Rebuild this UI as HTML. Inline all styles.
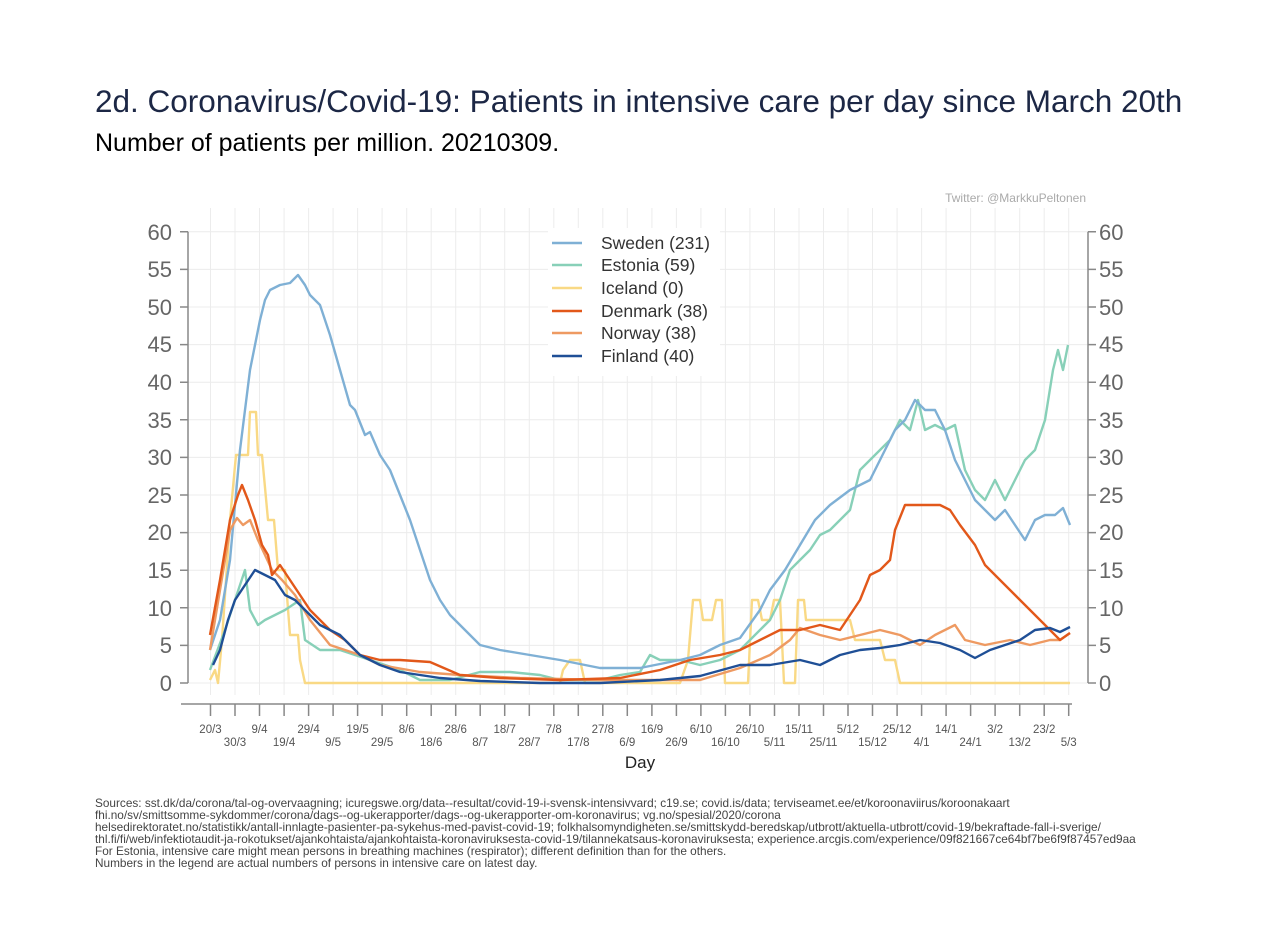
<!DOCTYPE html>
<html><head><meta charset="utf-8"><style>
body{margin:0;background:#fff;}
svg{display:block;font-family:"Liberation Sans",sans-serif;}
</style></head><body>
<svg width="1280" height="931" viewBox="0 0 1280 931" xmlns="http://www.w3.org/2000/svg">
<rect width="1280" height="931" fill="#fff"/>
<text x="95" y="112" font-size="31.5" fill="#1c2745">2d. Coronavirus/Covid-19: Patients in intensive care per day since March 20th</text>
<text x="95" y="151" font-size="25" fill="#000">Number of patients per million. 20210309.</text>
<text x="1086" y="202" font-size="12" fill="#aaa" text-anchor="end">Twitter: @MarkkuPeltonen</text>
<path stroke="#ececec" stroke-width="1" fill="none" d="M188 683H1088M188 645.4H1088M188 607.8H1088M188 570.2H1088M188 532.6H1088M188 495H1088M188 457.4H1088M188 419.8H1088M188 382.2H1088M188 344.6H1088M188 307H1088M188 269.4H1088M188 231.8H1088
M210.5 208V695M235 208V695M259.5 208V695M284.1 208V695M308.6 208V695M333.1 208V695M357.6 208V695M382.1 208V695M406.7 208V695M431.2 208V695M455.7 208V695M480.2 208V695M504.7 208V695M529.3 208V695M553.8 208V695M578.3 208V695M602.8 208V695M627.3 208V695M651.9 208V695M676.4 208V695M700.9 208V695M725.4 208V695M749.9 208V695M774.5 208V695M799 208V695M823.5 208V695M848 208V695M872.5 208V695M897.1 208V695M921.6 208V695M946.1 208V695M970.6 208V695M995.1 208V695M1019.7 208V695M1044.2 208V695M1068.7 208V695"/>
<path stroke="#888" stroke-width="1.5" fill="none" d="M188 231.8V683M1088 231.8V683
M180 683H188M180 645.4H188M180 607.8H188M180 570.2H188M180 532.6H188M180 495H188M180 457.4H188M180 419.8H188M180 382.2H188M180 344.6H188M180 307H188M180 269.4H188M180 231.8H188
M1088 683H1096M1088 645.4H1096M1088 607.8H1096M1088 570.2H1096M1088 532.6H1096M1088 495H1096M1088 457.4H1096M1088 419.8H1096M1088 382.2H1096M1088 344.6H1096M1088 307H1096M1088 269.4H1096M1088 231.8H1096
M181 704H1072
M210.5 704V716M235 704V716M259.5 704V716M284.1 704V716M308.6 704V716M333.1 704V716M357.6 704V716M382.1 704V716M406.7 704V716M431.2 704V716M455.7 704V716M480.2 704V716M504.7 704V716M529.3 704V716M553.8 704V716M578.3 704V716M602.8 704V716M627.3 704V716M651.9 704V716M676.4 704V716M700.9 704V716M725.4 704V716M749.9 704V716M774.5 704V716M799 704V716M823.5 704V716M848 704V716M872.5 704V716M897.1 704V716M921.6 704V716M946.1 704V716M970.6 704V716M995.1 704V716M1019.7 704V716M1044.2 704V716M1068.7 704V716"/>
<g fill="#666" font-size="22" text-anchor="end">
<text x="172" y="691">0</text><text x="172" y="653">5</text><text x="172" y="616">10</text><text x="172" y="578">15</text><text x="172" y="540">20</text><text x="172" y="503">25</text><text x="172" y="465">30</text><text x="172" y="428">35</text><text x="172" y="390">40</text><text x="172" y="352">45</text><text x="172" y="315">50</text><text x="172" y="277">55</text><text x="172" y="240">60</text>
</g>
<g fill="#666" font-size="22">
<text x="1099" y="691">0</text><text x="1099" y="653">5</text><text x="1099" y="616">10</text><text x="1099" y="578">15</text><text x="1099" y="540">20</text><text x="1099" y="503">25</text><text x="1099" y="465">30</text><text x="1099" y="428">35</text><text x="1099" y="390">40</text><text x="1099" y="352">45</text><text x="1099" y="315">50</text><text x="1099" y="277">55</text><text x="1099" y="240">60</text>
</g>
<g fill="#555" font-size="11.5" text-anchor="middle">
<text x="210.5" y="733">20/3</text><text x="235" y="746">30/3</text><text x="259.5" y="733">9/4</text><text x="284.1" y="746">19/4</text><text x="308.6" y="733">29/4</text><text x="333.1" y="746">9/5</text><text x="357.6" y="733">19/5</text><text x="382.1" y="746">29/5</text><text x="406.7" y="733">8/6</text><text x="431.2" y="746">18/6</text><text x="455.7" y="733">28/6</text><text x="480.2" y="746">8/7</text><text x="504.7" y="733">18/7</text><text x="529.3" y="746">28/7</text><text x="553.8" y="733">7/8</text><text x="578.3" y="746">17/8</text><text x="602.8" y="733">27/8</text><text x="627.3" y="746">6/9</text><text x="651.9" y="733">16/9</text><text x="676.4" y="746">26/9</text><text x="700.9" y="733">6/10</text><text x="725.4" y="746">16/10</text><text x="749.9" y="733">26/10</text><text x="774.5" y="746">5/11</text><text x="799" y="733">15/11</text><text x="823.5" y="746">25/11</text><text x="848" y="733">5/12</text><text x="872.5" y="746">15/12</text><text x="897.1" y="733">25/12</text><text x="921.6" y="746">4/1</text><text x="946.1" y="733">14/1</text><text x="970.6" y="746">24/1</text><text x="995.1" y="733">3/2</text><text x="1019.7" y="746">13/2</text><text x="1044.2" y="733">23/2</text><text x="1068.7" y="746">5/3</text>
</g>
<rect x="548" y="228" width="172" height="148" fill="#fff"/>
<g fill="none" stroke-width="2.4" stroke-linejoin="round">
<polyline stroke="#f9d985" points="210,680 215,670 218,683 222,640 230,520 236,455 248,455 250,412 256,412 258,455 262,455 268,520 274,520 278,570 285,570 290,635 298,635 300,660 305,683 560,683 563,670 570,660 580,660 585,683 680,683 688,660 693,600 700,600 703,620 712,620 716,600 722,600 725,683 748,683 752,600 758,600 762,620 770,620 774,600 780,600 784,683 795,683 798,600 804,600 806,620 850,620 855,640 880,640 885,660 895,660 900,683 1070,683"/>
<polyline stroke="#88d0b8" points="210,670 225,630 235,600 245,570 250,610 258,625 265,620 275,615 285,610 300,600 305,640 320,650 340,650 370,660 400,670 420,680 450,680 480,672 510,672 540,675 560,680 600,680 620,675 640,672 650,655 660,660 680,660 700,665 720,660 740,650 760,630 770,620 780,600 790,570 800,560 810,550 820,535 830,530 840,520 850,510 860,470 870,460 880,450 890,440 900,420 910,430 918,400 925,430 935,425 945,430 955,425 965,470 975,490 985,500 995,480 1005,500 1015,480 1025,460 1035,450 1045,420 1053,370 1058,350 1063,370 1068,345"/>
<polyline stroke="#7fb0d5" points="210,650 220,620 230,560 240,450 250,370 260,320 265,300 270,290 280,285 290,283 298,275 305,285 310,295 320,305 330,335 340,370 350,405 355,410 365,435 370,432 380,455 390,470 400,495 410,520 420,550 430,580 440,600 450,615 460,625 470,635 480,645 500,650 530,655 560,660 600,668 640,668 680,660 700,655 720,645 740,638 760,610 770,590 785,570 800,545 815,520 830,505 850,490 870,480 880,460 895,430 905,420 915,400 925,410 935,410 945,430 955,460 965,480 975,500 985,510 995,520 1005,510 1015,525 1025,540 1035,520 1045,515 1055,515 1063,508 1070,525"/>
<polyline stroke="#ee9a62" points="210,650 220,590 230,530 237,518 243,525 250,520 258,540 265,555 272,570 282,580 295,595 310,620 330,645 360,655 380,665 420,672 460,675 520,678 600,680 700,680 740,668 770,655 790,640 800,628 820,635 840,640 860,635 880,630 900,635 920,645 935,635 955,625 965,640 985,645 1010,640 1030,645 1050,640 1060,640 1070,633"/>
<polyline stroke="#e2581a" points="210,635 220,580 230,520 238,495 242,485 248,500 255,520 262,545 268,555 272,575 280,565 290,580 300,595 310,610 320,620 330,630 345,640 360,655 380,660 400,660 430,662 460,675 500,678 560,680 620,678 660,670 690,660 720,655 740,650 760,640 780,630 800,630 820,625 840,630 850,615 860,600 870,575 880,570 890,560 895,530 905,505 920,505 940,505 950,510 960,525 975,545 985,565 1000,580 1010,590 1025,605 1045,625 1060,640 1070,633"/>
<polyline stroke="#1f4f96" points="213,665 220,650 228,620 235,600 245,585 255,570 265,575 275,580 285,595 295,600 310,615 320,625 340,635 360,655 380,665 400,672 440,678 480,681 540,683 600,683 660,680 700,676 740,665 770,665 800,660 820,665 840,655 860,650 880,648 900,645 920,640 940,643 960,650 975,658 990,650 1005,645 1020,640 1035,630 1050,628 1060,632 1070,627"/>
</g>
<g font-size="17.5" fill="#333">
<line x1="552" y1="243" x2="582" y2="243" stroke="#7fb0d5" stroke-width="2.5"/><text x="601" y="249">Sweden (231)</text>
<line x1="552" y1="265" x2="582" y2="265" stroke="#88d0b8" stroke-width="2.5"/><text x="601" y="271">Estonia (59)</text>
<line x1="552" y1="288" x2="582" y2="288" stroke="#f9d985" stroke-width="2.5"/><text x="601" y="294">Iceland (0)</text>
<line x1="552" y1="311" x2="582" y2="311" stroke="#e2581a" stroke-width="2.5"/><text x="601" y="317">Denmark (38)</text>
<line x1="552" y1="333" x2="582" y2="333" stroke="#ee9a62" stroke-width="2.5"/><text x="601" y="339">Norway (38)</text>
<line x1="552" y1="356" x2="582" y2="356" stroke="#1f4f96" stroke-width="2.5"/><text x="601" y="362">Finland (40)</text>
</g>
<text x="640" y="768" font-size="17" fill="#222" text-anchor="middle">Day</text>
<g font-size="11.8" fill="#444">
<text x="95" y="807">Sources: sst.dk/da/corona/tal-og-overvaagning; icuregswe.org/data--resultat/covid-19-i-svensk-intensivvard; c19.se; covid.is/data;  terviseamet.ee/et/koroonaviirus/koroonakaart</text>
<text x="95" y="819">fhi.no/sv/smittsomme-sykdommer/corona/dags--og-ukerapporter/dags--og-ukerapporter-om-koronavirus; vg.no/spesial/2020/corona</text>
<text x="95" y="831">helsedirektoratet.no/statistikk/antall-innlagte-pasienter-pa-sykehus-med-pavist-covid-19; folkhalsomyndigheten.se/smittskydd-beredskap/utbrott/aktuella-utbrott/covid-19/bekraftade-fall-i-sverige/</text>
<text x="95" y="843">thl.fi/fi/web/infektiotaudit-ja-rokotukset/ajankohtaista/ajankohtaista-koronaviruksesta-covid-19/tilannekatsaus-koronaviruksesta; experience.arcgis.com/experience/09f821667ce64bf7be6f9f87457ed9aa</text>
<text x="95" y="855">For Estonia, intensive care might mean persons in breathing machines (respirator); different definition than for the others.</text>
<text x="95" y="867">Numbers in the legend are actual numbers of persons in intensive care on latest day.</text>
</g>
</svg>
</body></html>
